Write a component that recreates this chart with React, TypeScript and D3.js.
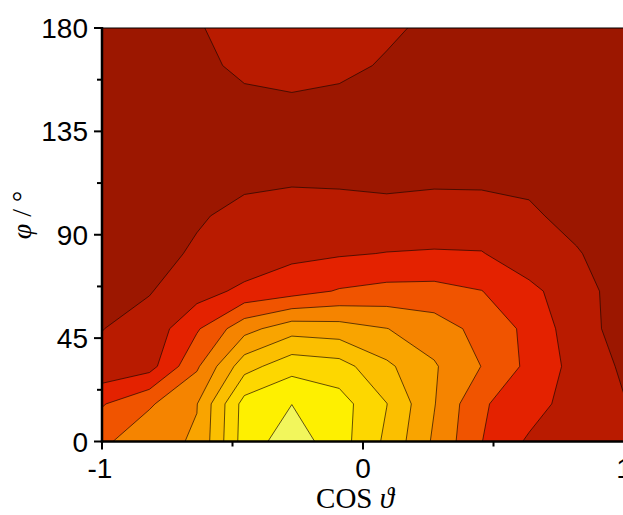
import React from "react";
import * as d3 from "d3";

// grid columns: cos(theta) from -1 to 1 in 12 samples; rows: phi from 0 to 180 in 12 samples
const cosSamples = [-1, -0.818, -0.636, -0.455, -0.273, -0.091, 0.091, 0.273, 0.455, 0.636, 0.818, 1];
const phiSamples = [0, 16.4, 32.7, 49.1, 65.5, 81.8, 98.2, 114.5, 130.9, 147.3, 163.6, 180];

// values (level units), one row per phi sample (phi = 0 first)
const row00 = [3.78, 4.73, 5.09, 8.47, 9.54, 8.42, 6.79, 4.84, 3.02, 1.84, 1.5, 1.2];
const row01 = [2.92, 3.87, 4.97, 8.4, 8.99, 8.42, 7.02, 5.05, 3.1, 2.5, 1.45, 1.05];
const row02 = [1.24, 1.63, 3.85, 6.6, 7.64, 7.4, 6.2, 5.1, 3.98, 2.76, 1.65, 0.85];
const row03 = [0.98, 1.35, 2.88, 4.65, 5.6, 5.45, 5.02, 4.5, 3.67, 2.76, 1.4, 0.64];
const row04 = [0.7, 0.95, 1.56, 2.25, 2.6, 3.08, 3.3, 3.32, 3.02, 2.3, 1.3, 0.68];
const row05 = [0.5, 0.75, 1.1, 1.25, 1.77, 1.9, 2.03, 2.1, 2.06, 1.3, 1.05, 0.65];
const row06 = [0.45, 0.6, 0.92, 1.2, 1.4, 1.35, 1.3, 1.25, 1.2, 1.1, 0.8, 0.5];
const row07 = [0.4, 0.5, 0.75, 0.85, 0.88, 0.86, 0.79, 0.9, 0.91, 0.866, 0.6, 0.4];
const row08 = [0.4, 0.45, 0.6, 0.6, 0.6, 0.6, 0.6, 0.6, 0.6, 0.6, 0.5, 0.4];
const row09 = [0.4, 0.45, 0.55, 0.77, 0.86, 0.675, 0.6, 0.55, 0.5, 0.5, 0.45, 0.4];
const row10 = [0.4, 0.45, 0.75, 1.21, 1.35, 1.3, 0.87, 0.6, 0.5, 0.45, 0.4, 0.4];
const row11 = [0.4, 0.5, 0.9, 1.5, 1.6, 1.5, 1.2, 0.745, 0.5, 0.45, 0.4, 0.4];
const rows = [row00, row01, row02, row03, row04, row05, row06, row07, row08, row09, row10, row11];

const levels = [1, 2, 3, 4, 5, 6, 7, 8, 9];
const bandColors = ["#9C1700", "#B91B00", "#E42200", "#F05400", "#F58400", "#F9A400", "#FBBF00", "#FDD700", "#FEF000", "#F2F65C"];

const xTicks = [-1, 0, 1];
const xMinor = [-0.5, 0.5];
const yTicks = [0, 45, 90, 135, 180];
const yMinor = [22.5, 67.5, 112.5, 157.5];

export default function App() {
  const W = 623, H = 515;
  const x = d3.scaleLinear().domain([-1, 1]).range([102, 624]);
  const y = d3.scaleLinear().domain([0, 180]).range([441.5, 28]);
  const nx = cosSamples.length, ny = phiSamples.length;
  const gx = d3.scaleLinear().domain([0.5, nx - 0.5]).range([cosSamples[0], cosSamples[nx - 1]]);
  const gy = d3.scaleLinear().domain([0.5, ny - 0.5]).range([phiSamples[0], phiSamples[ny - 1]]);
  const values = rows.flat();
  const contours = d3.contours().size([nx, ny]).thresholds(levels)(values);
  const proj = d3.geoTransform({
    point(px: number, py: number) {
      (this as any).stream.point(x(gx(px)), y(gy(py)));
    },
  });
  const path = d3.geoPath(proj);
  const x0 = x(-1), x1 = x(1), yTop = y(180), yBot = y(0);
  const tickFont = "'Liberation Sans', Arial, sans-serif";
  const serif = "'Liberation Serif', 'Times New Roman', serif";

  return (
    <svg width={W} height={H} style={{ position: "absolute", left: 0, top: 0, background: "#fff" }}>
      <defs>
        <clipPath id="plot">
          <rect x={x0} y={yTop} width={x1 - x0} height={yBot - yTop} />
        </clipPath>
      </defs>
      <g clipPath="url(#plot)">
        <rect x={x0} y={yTop} width={x1 - x0} height={yBot - yTop} fill={bandColors[0]} />
        {contours.map((c, i) => (
          <path key={i} d={path(c as any) || ""} fill={bandColors[i + 1]} stroke="#1a0800" strokeOpacity={0.75} strokeWidth={0.9} strokeLinejoin="round" />
        ))}
      </g>
      {/* frame */}
      <line x1={x0} x2={x1} y1={yTop} y2={yTop} stroke="#000" strokeWidth={1.2} />
      <line x1={x0} x2={x0} y1={yTop - 1} y2={yBot + 1.2} stroke="#000" strokeWidth={2.5} />
      <line x1={x0 - 1.2} x2={x1} y1={yBot} y2={yBot} stroke="#000" strokeWidth={2.5} />
      {yTicks.map((t) => (
        <g key={"y" + t}>
          <line x1={x0 - 8} x2={x0} y1={y(t)} y2={y(t)} stroke="#000" strokeWidth={2} />
          <text x={88} y={y(t) + 10} textAnchor="end" fontFamily={tickFont} fontSize={28} fill="#000">{t}</text>
        </g>
      ))}
      {yMinor.map((t) => (
        <line key={"ym" + t} x1={x0 - 5} x2={x0} y1={y(t)} y2={y(t)} stroke="#000" strokeWidth={2} />
      ))}
      {xTicks.map((t) => (
        <g key={"x" + t}>
          <line x1={x(t)} x2={x(t)} y1={yBot} y2={yBot + 8} stroke="#000" strokeWidth={2} />
          <text x={x(t) - (t < 0 ? 2 : 0)} y={478} textAnchor="middle" fontFamily={tickFont} fontSize={28} fill="#000">{t}</text>
        </g>
      ))}
      {xMinor.map((t) => (
        <line key={"xm" + t} x1={x(t)} x2={x(t)} y1={yBot} y2={yBot + 5} stroke="#000" strokeWidth={2} />
      ))}
      <text x={355} y={508} textAnchor="middle" fontFamily={serif} fontSize={29} fill="#000">
        COS <tspan fontStyle="italic">ϑ</tspan>
      </text>
      <text transform={`translate(31,215) rotate(-90)`} textAnchor="middle" fontFamily={serif} fontSize={28} fill="#000">
        <tspan fontStyle="italic">φ</tspan> / °
      </text>
    </svg>
  );
}
